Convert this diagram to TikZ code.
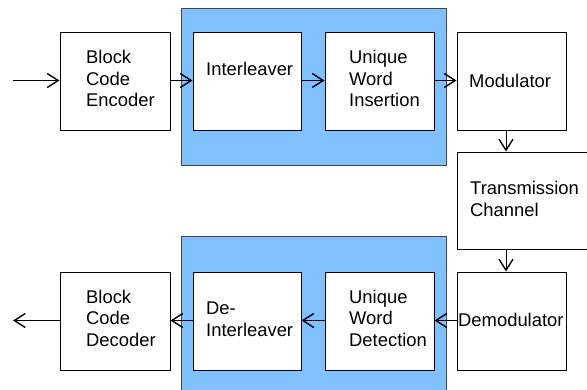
\documentclass[tikz,border=0pt]{standalone}
\usepackage{fontspec}
\setmainfont{Liberation Sans}
\usetikzlibrary{arrows.meta}
\definecolor{panelblue}{RGB}{128,192,255}
\definecolor{edgegray}{RGB}{70,70,70}
\begin{document}
\begin{tikzpicture}[x=1pt,y=-1pt,
  block/.style={draw=black, line width=1pt, fill=white, inner sep=0pt, minimum height=98pt},
  panel/.style={draw=edgegray, line width=0.9pt, fill=panelblue},
  lbl/.style={font=\fontsize{18.4}{21.7}\selectfont, align=left, anchor=base west, inner sep=0pt},
  flow/.style={line width=1pt, -{Straight Barb[length=11pt,width=14pt,line width=1.4pt]}}]
\useasboundingbox (0,0) rectangle (587,389);
\fill[white] (0,0) rectangle (587,389);

% shaded groups
\draw[panel] (181,8) rectangle (446,165);
\draw[panel] (181,236) rectangle (446,400);

% transmit chain
\node[block, minimum width=110pt] (enc) at (115,81) {};
\node[block, minimum width=108pt] (il) at (247,81) {};
\node[block, minimum width=109pt] (uwi) at (379.5,81) {};
\node[block, minimum width=109pt] (mod) at (511.5,81) {};
\node[block, minimum width=150pt, minimum height=97pt] (tx) at (532,200.5) {};

% receive chain
\node[block, minimum width=109pt] (demod) at (511.5,321) {};
\node[block, minimum width=109pt] (uwd) at (379.5,321) {};
\node[block, minimum width=108pt] (deil) at (247,321) {};
\node[block, minimum width=110pt] (dec) at (115,321) {};

% labels (base anchor sits on the last line)
\node[lbl] (tenc) at (86,106.7) {Block\\Code\\Encoder};
\node[lbl] (til) at (206,75) {Interleaver};
\node[lbl] (tuwi) at (349,106.7) {Unique\\Word\\Insertion};
\node[lbl] (tmod) at (469,87) {Modulator};
\node[lbl] (ttx) at (470,216.5) {Transmission\\Channel};
\node[lbl] (tdemod) at (458,326.7) {Demodulator};
\node[lbl] (tuwd) at (349,346.5) {Unique\\Word\\Detection};
\node[lbl] (tdeil) at (206,336.5) {De-\\Interleaver};
\node[lbl] (tdec) at (86,346.5) {Block\\Code\\Decoder};

% free ends
\coordinate (in) at (13,80.5);
\coordinate (out) at (13,320.5);

% connectors
\draw[flow] (in) -- (in -| enc.west);
\draw[flow] (enc.east |- in) -- (in -| il.west);
\draw[flow] (il.east |- in) -- (in -| uwi.west);
\draw[flow] (uwi.east |- in) -- (in -| mod.west);
\draw[flow] ([xshift=-5.5pt]mod.south) -- ([xshift=-5.5pt]mod.south |- tx.north);
\draw[flow] ([xshift=-5.5pt]mod.south |- tx.south) -- ([xshift=-5.5pt]demod.north);
\draw[flow] (demod.west |- out) -- (out -| uwd.east);
\draw[flow] (uwd.west |- out) -- (out -| deil.east);
\draw[flow] (deil.west |- out) -- (out -| dec.east);
\draw[flow] (dec.west |- out) -- (out);
\end{tikzpicture}
\end{document}
